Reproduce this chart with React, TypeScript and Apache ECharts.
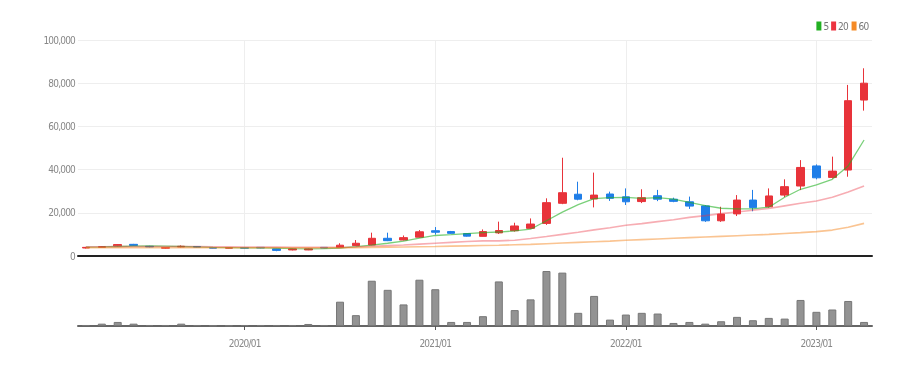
import React, { useEffect, useRef } from "react";
import * as echarts from "echarts";

const categories = [
  "2019/03","2019/04","2019/05","2019/06","2019/07","2019/08","2019/09","2019/10","2019/11","2019/12",
  "2020/01","2020/02","2020/03","2020/04","2020/05","2020/06","2020/07","2020/08","2020/09","2020/10","2020/11","2020/12",
  "2021/01","2021/02","2021/03","2021/04","2021/05","2021/06","2021/07","2021/08","2021/09","2021/10","2021/11","2021/12",
  "2022/01","2022/02","2022/03","2022/04","2022/05","2022/06","2022/07","2022/08","2022/09","2022/10","2022/11","2022/12",
  "2023/01","2023/02","2023/03","2023/04",
];

const opens = [
  3700, 4000, 4700, 5400, 4500, 3600, 4200, 4400, 3900, 3600,
  3900, 4000, 3300, 2800, 2800, 4000, 3900, 4800, 5100, 8200, 7400, 8700,
  11700, 11300, 10400, 9100, 10700, 11700, 12800, 15100, 24400, 28600, 26400, 28700,
  27400, 25200, 27900, 26300, 25100, 23200, 16300, 19500, 25900, 22800, 28200, 32400,
  41700, 36400, 39800, 72200,
];
const closes = [
  4000, 4300, 5300, 4900, 4200, 3900, 4500, 4100, 3600, 3900,
  3600, 3700, 2600, 3300, 3300, 3700, 5000, 5900, 8200, 7100, 8500, 11200,
  11000, 10500, 9200, 11300, 11800, 13900, 14800, 24700, 29300, 26300, 28200, 26700,
  25100, 27000, 26300, 25300, 23100, 16300, 19400, 25900, 22400, 27800, 32100, 41000,
  36200, 39300, 71900, 80000,
];
const lows = [
  3500, 3900, 4500, 4700, 4000, 3400, 4000, 3900, 3500, 3500,
  3500, 3600, 2200, 2600, 2700, 3600, 3700, 4600, 5000, 6900, 7200, 8500,
  9900, 10300, 9000, 9000, 10200, 11300, 12500, 14400, 24000, 25800, 22500, 25500,
  23600, 24500, 25400, 24900, 21800, 15800, 15800, 18500, 20700, 22400, 27300, 30500,
  35500, 35900, 36700, 67300,
];
const highs = [
  4200, 4500, 5500, 5600, 4700, 4000, 4900, 4500, 4000, 4000,
  4000, 4100, 3400, 3400, 3500, 4100, 5900, 7400, 10800, 10800, 9500, 12000,
  13400, 11600, 10600, 12300, 15900, 15400, 17400, 26700, 45500, 34400, 38600, 29800,
  31300, 30900, 30600, 27000, 27500, 23600, 22800, 28200, 30600, 31300, 35500, 44400,
  42400, 46000, 79200, 86900,
];

const volumes = [
  100000, 230000, 400000, 230000, 100000, 100000, 230000, 100000, 50000, 50000,
  100000, 100000, 100000, 100000, 200000, 100000, 2400000, 1070000, 4470000, 3570000, 2130000, 4570000,
  3630000, 400000, 400000, 970000, 4400000, 1570000, 2630000, 5430000, 5270000, 1300000, 2970000, 630000,
  1130000, 1300000, 1230000, 300000, 400000, 230000, 470000, 900000, 570000, 800000, 730000, 2570000,
  1400000, 1630000, 2470000, 400000,
];

const ma5 = [
  4100, 4200, 4400, 4600, 4700, 4600, 4400, 4200, 4000, 3900,
  3800, 3800, 3600, 3400, 3300, 3400, 3700, 4300, 5000, 5900, 6900, 8300,
  9500, 9900, 10400, 10800, 11100, 11600, 12400, 16300, 20300, 23800, 26600, 27000,
  27100, 26700, 27000, 26300, 24800, 23300, 22100, 21800, 21800, 22600, 27200, 30900,
  32900, 35500, 41700, 53700,
];
const ma20 = [
  4300, 4300, 4350, 4400, 4400, 4400, 4400, 4350, 4300, 4250,
  4200, 4150, 4100, 4050, 4000, 4000, 4000, 4200, 4500, 4800, 5100, 5500,
  5900, 6300, 6700, 7000, 7000, 7300, 8100, 9000, 10000, 11000, 12100, 13100,
  14200, 15000, 15900, 16800, 17900, 18700, 19600, 20400, 21200, 22000, 23200, 24400,
  25500, 27200, 29600, 32400,
];
const ma60 = [
  3800, 3800, 3800, 3800, 3800, 3800, 3800, 3800, 3800, 3800,
  3800, 3800, 3800, 3800, 3800, 3800, 3850, 3900, 4000, 4100, 4200, 4300,
  4400, 4550, 4700, 4850, 5000, 5200, 5400, 5700, 6000, 6300, 6600, 6900,
  7300, 7600, 7900, 8200, 8500, 8800, 9100, 9400, 9700, 10000, 10400, 10800,
  11300, 12000, 13300, 15100,
];

const FONT = "'Liberation Sans Narrow','DejaVu Sans Condensed','Roboto Condensed','Liberation Sans',sans-serif";

const isJan = (_i: number, v: string) => typeof v === "string" && v.endsWith("/01");

export default function App() {
  const ref = useRef<HTMLDivElement>(null);
  useEffect(() => {
    const chart = echarts.init(ref.current!, null, { renderer: "svg" });
    const candleData = categories.map((_, i) => [opens[i], closes[i], lows[i], highs[i]]);
    chart.setOption({
      animation: false,
      textStyle: { fontFamily: FONT },
      legend: {
        right: 47,
        top: 16,
        icon: "rect",
        itemWidth: 5,
        itemHeight: 9,
        itemGap: 2,
        textStyle: { color: "#777", fontSize: 10, fontFamily: FONT, padding: [0, 0, 0, -3] },
        data: ["5", "20", "60"],
      },
      grid: [
        { left: 78, right: 50, top: 40, bottom: 110 },
        { left: 78, right: 50, top: 271, bottom: 40 },
      ],
      xAxis: [
        {
          type: "category",
          gridIndex: 0,
          data: categories,
          boundaryGap: true,
          offset: 7,
          axisLine: { lineStyle: { color: "#222", width: 2 } },
          axisTick: { show: false },
          axisLabel: { show: false },
          splitLine: { show: true, interval: isJan, alignWithLabel: true, lineStyle: { color: "#eee" } },
        },
        {
          type: "category",
          gridIndex: 1,
          data: categories,
          boundaryGap: true,
          axisLine: { lineStyle: { color: "#666", width: 2 } },
          axisTick: { show: true, interval: isJan, alignWithLabel: true, length: 4, lineStyle: { color: "#555" } },
          axisLabel: { interval: isJan, color: "#888", fontSize: 10, fontFamily: FONT, margin: 12 },
          splitLine: { show: false },
        },
      ],
      yAxis: [
        {
          type: "value",
          gridIndex: 0,
          min: 0,
          max: 100000,
          interval: 20000,
          axisLine: { show: false },
          axisTick: { show: false },
          axisLabel: {
            color: "#888",
            fontSize: 10,
            fontFamily: FONT,
            margin: 3,
            formatter: (v: number) => v.toLocaleString("en-US"),
          },
          splitLine: { lineStyle: { color: "#eee" } },
        },
        {
          type: "value",
          gridIndex: 1,
          min: 0,
          max: "dataMax",
          show: false,
          splitLine: { show: false },
        },
      ],
      series: [
        {
          name: "candle",
          type: "candlestick",
          xAxisIndex: 0,
          yAxisIndex: 0,
          barWidth: 8,
          data: candleData,
          itemStyle: {
            color: "#e8333a",
            color0: "#1f7ee8",
            borderColor: "#e8333a",
            borderColor0: "#1f7ee8",
            borderWidth: 1,
          },
        },
        {
          name: "5",
          type: "line",
          xAxisIndex: 0,
          yAxisIndex: 0,
          data: ma5,
          showSymbol: false,
          symbol: "none",
          color: "#22b022",
          lineStyle: { color: "#22b022", width: 1.3, opacity: 0.6 },
          z: 3,
        },
        {
          name: "20",
          type: "line",
          xAxisIndex: 0,
          yAxisIndex: 0,
          data: ma20,
          showSymbol: false,
          symbol: "none",
          color: "#ec3340",
          lineStyle: { color: "#ec3340", width: 1.6, opacity: 0.4 },
          z: 3,
        },
        {
          name: "60",
          type: "line",
          xAxisIndex: 0,
          yAxisIndex: 0,
          data: ma60,
          showSymbol: false,
          symbol: "none",
          color: "#f58a25",
          lineStyle: { color: "#f58a25", width: 1.6, opacity: 0.5 },
          z: 3,
        },
        {
          name: "volume",
          type: "bar",
          xAxisIndex: 1,
          yAxisIndex: 1,
          barWidth: 8,
          data: volumes,
          itemStyle: { color: "#939393", borderColor: "#777", borderWidth: 1 },
        },
      ],
    });
    return () => chart.dispose();
  }, []);
  return (
    <>
      <style>{`#root svg text { letter-spacing: -0.8px; }`}</style>
      <div ref={ref} style={{ position: "fixed", left: 0, top: 0, width: 922, height: 366 }} />
    </>
  );
}
